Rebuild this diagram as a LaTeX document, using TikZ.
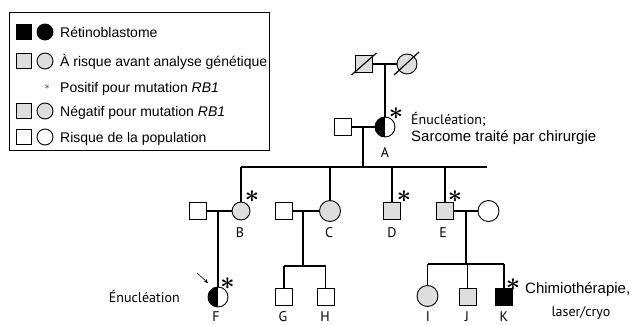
\documentclass[tikz,border=0pt]{standalone}
\usepackage{fontspec}
\setmainfont{Liberation Sans}
\newfontfamily\pedfont{PT Sans}
\usetikzlibrary{arrows.meta}
\definecolor{lgray}{HTML}{DEDEDE}
\begin{document}
\begin{tikzpicture}[x=1pt,y=-1pt,
  sym/.style={draw=black, line width=0.9pt, inner sep=0pt, outer sep=0pt},
  sq/.style={sym, rectangle, minimum size=17pt},
  ci/.style={sym, circle, minimum size=#1}, ci/.default=21pt,
  lsq/.style={sym, rectangle, minimum size=15pt},
  lci/.style={sym, circle, minimum size=16pt},
  gf/.style={fill=lgray},
  wf/.style={fill=white},
  bf/.style={fill=black},
  half/.style={fill=white, path picture={\fill[black] (path picture bounding box.south west) rectangle (path picture bounding box.north);}},
  conn/.style={line width=1.5pt},
  legtxt/.style={anchor=base west, inner sep=0pt, font=\fontsize{14}{14}\selectfont},
  lab/.style={anchor=base, inner sep=0pt, font=\pedfont\fontsize{14}{14}\selectfont},
  note/.style={anchor=base west, inner sep=0pt, font=\pedfont\fontsize{14}{14}\selectfont},
  hnote/.style={anchor=base west, inner sep=0pt, font=\fontsize{15}{15}\selectfont},
  ast/.style={inner sep=0pt, font=\fontsize{25}{25}\selectfont\boldmath},
  slash/.style={line width=1.2pt}
]
\useasboundingbox (0,0) rectangle (631,324);

% ---------- legend ----------
\draw[line width=1pt] (9,12) rectangle (269,150);
\node[lsq,bf] (l1s) at (23.5,32) {};
\node[lci,bf] (l1c) at (45,32) {};
\node[legtxt] (l1t) at (60,37) {Rétinoblastome};
\node[lsq,gf] (l2s) at (23.5,61) {};
\node[lci,gf] (l2c) at (45,61) {};
\node[legtxt] (l2t) at (60,66) {À risque avant analyse génétique};
\node[inner sep=0pt] (l3a) at (47,87) {$\ast$};
\node[legtxt] (l3t) at (60,92) {Positif pour mutation \textit{RB1}};
\node[lsq,gf] (l4s) at (23.5,111) {};
\node[lci,gf] (l4c) at (45,111) {};
\node[legtxt] (l4t) at (60,116) {Négatif pour mutation \textit{RB1}};
\node[lsq,wf] (l5s) at (23.5,137) {};
\node[lci,wf] (l5c) at (45,137) {};
\node[legtxt] (l5t) at (60,142) {Risque de la population};

% ---------- generation I ----------
\node[sq,gf] (I1) at (363.5,64) {};
\node[ci=20pt,gf] (I2) at (407,64) {};
\draw[slash] (I1) ++(-12,11) -- ++(25,-22);
\draw[slash] (I2) ++(-13,11) -- ++(25,-23);
\coordinate (mI) at (385,64);
\draw[conn] (I1.east) -- (I2.west);

% ---------- generation II ----------
\node[sq,wf] (AS) at (342.5,127) {};
\node[ci=20pt,half] (A) at (385,127) {};
\draw[conn] (mI) -- (A.north);
\draw[conn] (AS.east) -- (A.west);
\node[ast] (Aast) at (396,114) {$\ast$};
\node[lab] (Al) at (385,157) {A};
\node[note] (An1) at (411,124) {Énucléation;};
\node[hnote] (An2) at (411,141) {Sarcome traité par chirurgie};
\coordinate (mA) at (363,127);
\coordinate (sibL) at (241,167);
\coordinate (sibR) at (487,167);
\coordinate (sibA) at (363,167);
\draw[conn] (mA) -- (sibA);
\draw[conn] (sibL) -- (sibR);

% ---------- generation III ----------
\node[ci=18pt,gf] (B) at (241,211) {};
\node[sq,wf] (BS) at (198,211) {};
\node[ci,gf] (C) at (330,211) {};
\node[sq,wf] (CS) at (283.5,211) {};
\node[sq,gf] (D) at (392,211) {};
\node[sq,gf] (E) at (445,211) {};
\node[ci,wf] (ES) at (488.5,211) {};
\draw[conn] (sibL) -- (B.north);
\draw[conn] (C.north |- sibL) -- (C.north);
\draw[conn] (D.north |- sibL) -- (D.north);
\draw[conn] (E.north |- sibL) -- (E.north);
\draw[conn] (BS.east) -- (B.west);
\draw[conn] (CS.east) -- (C.west);
\draw[conn] (E.east) -- (ES.west);
\node[ast] (Bast) at (252,197) {$\ast$};
\node[ast] (Dast) at (404,197) {$\ast$};
\node[ast] (East) at (455,197) {$\ast$};
\node[lab] (Bl) at (240,237) {B};
\node[lab] (Cl) at (329,237) {C};
\node[lab] (Dl) at (392,237) {D};
\node[lab] (El) at (443,237) {E};

% ---------- generation IV ----------
\node[ci=20pt,half] (F) at (218,297) {};
\node[sq,wf] (G) at (284,296.5) {};
\node[sq,wf] (H) at (325.5,296.5) {};
\node[ci,gf] (I) at (427.5,296) {};
\node[sq,gf] (J) at (467.5,296.5) {};
\node[sq,bf] (K) at (504,296.5) {};

\coordinate (mB) at (218,211);
\draw[conn] (mB) -- (F.north);
\coordinate (mC) at (303,211);
\coordinate (sibC) at (303,266);
\draw[conn] (mC) -- (sibC);
\draw[conn] (G.north |- sibC) -- (H.north |- sibC);
\draw[conn] (G.north |- sibC) -- (G.north);
\draw[conn] (H.north |- sibC) -- (H.north);
\coordinate (mE) at (466,211);
\coordinate (sibE) at (466,264);
\draw[conn] (mE) -- (sibE);
\draw[conn] (I.north |- sibE) -- (K.north |- sibE);
\draw[conn] (I.north |- sibE) -- (I.north);
\draw[conn] (J.north |- sibE) -- (J.north);
\draw[conn] (K.north |- sibE) -- (K.north);

\node[ast] (Fast) at (227.5,284) {$\ast$};
\node[ast] (Kast) at (513,285) {$\ast$};
\coordinate (arrS) at (197,273);
\coordinate (arrE) at (208,283);
\draw[line width=0.6pt, -{Stealth[length=4pt,width=3.5pt]}] (arrS) -- (arrE);
\node[note, anchor=base east] (Fn) at (180,302) {Énucléation};
\node[hnote] (Kn1) at (525,293) {Chimiothérapie,};
\node[lab] (Kn2) at (581,316) {laser/cryo};
\node[lab] (Fl) at (216,321) {F};
\node[lab] (Gl) at (283,321) {G};
\node[lab] (Hl) at (325,321) {H};
\node[lab] (Il) at (428,321) {I};
\node[lab] (Jl) at (467,321) {J};
\node[lab] (Kl) at (504,321) {K};
\end{tikzpicture}
\end{document}
